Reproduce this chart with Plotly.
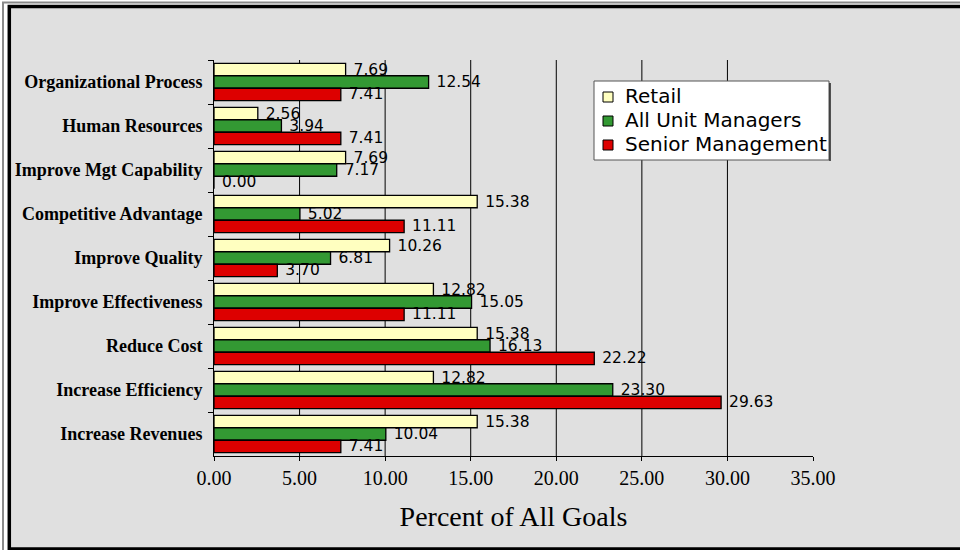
import plotly.graph_objects as go

# Goal categories, listed top to bottom
categories = [
    "Organizational Process",
    "Human Resources",
    "Improve Mgt Capability",
    "Competitive Advantage",
    "Improve Quality",
    "Improve Effectiveness",
    "Reduce Cost",
    "Increase Efficiency",
    "Increase Revenues",
]

retail = [7.69, 2.56, 7.69, 15.38, 10.26, 12.82, 15.38, 12.82, 15.38]
all_unit_managers = [12.54, 3.94, 7.17, 5.02, 6.81, 15.05, 16.13, 23.30, 10.04]
senior_management = [7.41, 7.41, 0.00, 11.11, 3.70, 11.11, 22.22, 29.63, 7.41]

x_ticks = [0, 5, 10, 15, 20, 25, 30, 35]
grid_values = [5, 10, 15, 20, 25, 30]

series_names = ["Retail", "All Unit Managers", "Senior Management"]
series_values = [retail, all_unit_managers, senior_management]
series_colors = ["#FFFFC0", "#339933", "#DD0000"]

fig = go.Figure()
for name, values, color in zip(series_names, series_values, series_colors):
    fig.add_trace(go.Bar(
        name=name,
        y=categories,
        x=values,
        orientation="h",
        marker=dict(color=color, line=dict(color="#000000", width=1.3)),
        texttemplate=" %{x:.2f}",
        textposition="outside",
        textfont=dict(family="DejaVu Sans", size=15.5, color="#000000"),
        constraintext="none",
        cliponaxis=False,
        showlegend=False,
    ))

# Plot geometry in pixels, used to place the frame and the legend box
L, R, T, B = 214, 813, 60, 456
W, H = R - L, B - T


def px(xp):
    return (xp - L) / W


def py(yp):
    return (B - yp) / H


shapes = [
    # light grey panel inside the frame
    dict(type="rect", xref="paper", yref="paper", layer="below",
         x0=px(9), x1=px(975), y0=py(549), y1=py(6.5),
         fillcolor="#E0E0E0", line=dict(width=0)),
    # thin outer grey rule
    dict(type="rect", xref="paper", yref="paper", layer="above",
         x0=px(3), x1=px(975), y0=py(555), y1=py(2.5),
         fillcolor="rgba(0,0,0,0)", line=dict(color="#8a8a8a", width=2)),
    # heavy black frame
    dict(type="rect", xref="paper", yref="paper", layer="above",
         x0=px(9.3), x1=px(975), y0=py(549), y1=py(6.5),
         fillcolor="rgba(0,0,0,0)", line=dict(color="#000000", width=3.5)),
]

# vertical grid lines (none at the right edge of the plot)
for v in grid_values:
    shapes.append(dict(type="line", xref="x", yref="paper", layer="below",
                       x0=v, x1=v, y0=0, y1=1,
                       line=dict(color="#000000", width=1)))

# legend: white box with a colour swatch and name per series
annotations = []
box_l, box_r, box_t, box_b = 594, 829, 81, 160
shapes.append(dict(type="rect", xref="paper", yref="paper", layer="above",
                   x0=px(box_l), x1=px(box_r), y0=py(box_b), y1=py(box_t),
                   fillcolor="#FFFFFF", line=dict(color="#555555", width=1)))
shapes.append(dict(type="line", xref="paper", yref="paper", layer="above",
                   x0=px(box_r + 1), x1=px(box_r + 1), y0=py(box_b + 1), y1=py(box_t + 2),
                   line=dict(color="#222222", width=1.5)))
for i, (name, color) in enumerate(zip(series_names, series_colors)):
    cy = 96 + 24 * i
    shapes.append(dict(type="rect", xref="paper", yref="paper", layer="above",
                       x0=px(603), x1=px(613), y0=py(cy + 6), y1=py(cy - 4),
                       fillcolor=color, line=dict(color="#000000", width=1)))
    annotations.append(dict(xref="paper", yref="paper", x=px(623), y=py(cy),
                            xanchor="left", yanchor="middle", showarrow=False,
                            text=name,
                            font=dict(family="DejaVu Sans", size=20, color="#000000")))

fig.update_layout(
    width=960,
    height=550,
    margin=dict(l=L, r=960 - R, t=T, b=550 - B, pad=0),
    paper_bgcolor="#FFFFFF",
    plot_bgcolor="#FFFFFF",
    barmode="group",
    bargap=0.15,
    bargroupgap=0,
    showlegend=False,
    xaxis=dict(
        range=[0, 35],
        tickvals=x_ticks,
        ticktext=[f"{v:.2f}" for v in x_ticks],
        showgrid=False,
        showline=True, linecolor="#000000", linewidth=1,
        ticks="outside", ticklen=4, tickcolor="#000000",
        tickfont=dict(family="Liberation Serif", size=20, color="#000000"),
        zeroline=False,
        title=dict(text="Percent of All Goals",
                   font=dict(family="Liberation Serif", size=28, color="#000000"),
                   standoff=18),
    ),
    yaxis=dict(
        autorange="reversed",
        showline=True, linecolor="#000000", linewidth=1,
        ticks="outside", ticklen=5, tickcolor="#000000",
        tickson="boundaries",
        tickfont=dict(family="Liberation Serif", size=18, color="#000000",
                      weight="bold"),
        ticklabelstandoff=7,
        showgrid=False, zeroline=False,
    ),
    shapes=shapes,
    annotations=annotations,
)

fig.write_html("out.html")
